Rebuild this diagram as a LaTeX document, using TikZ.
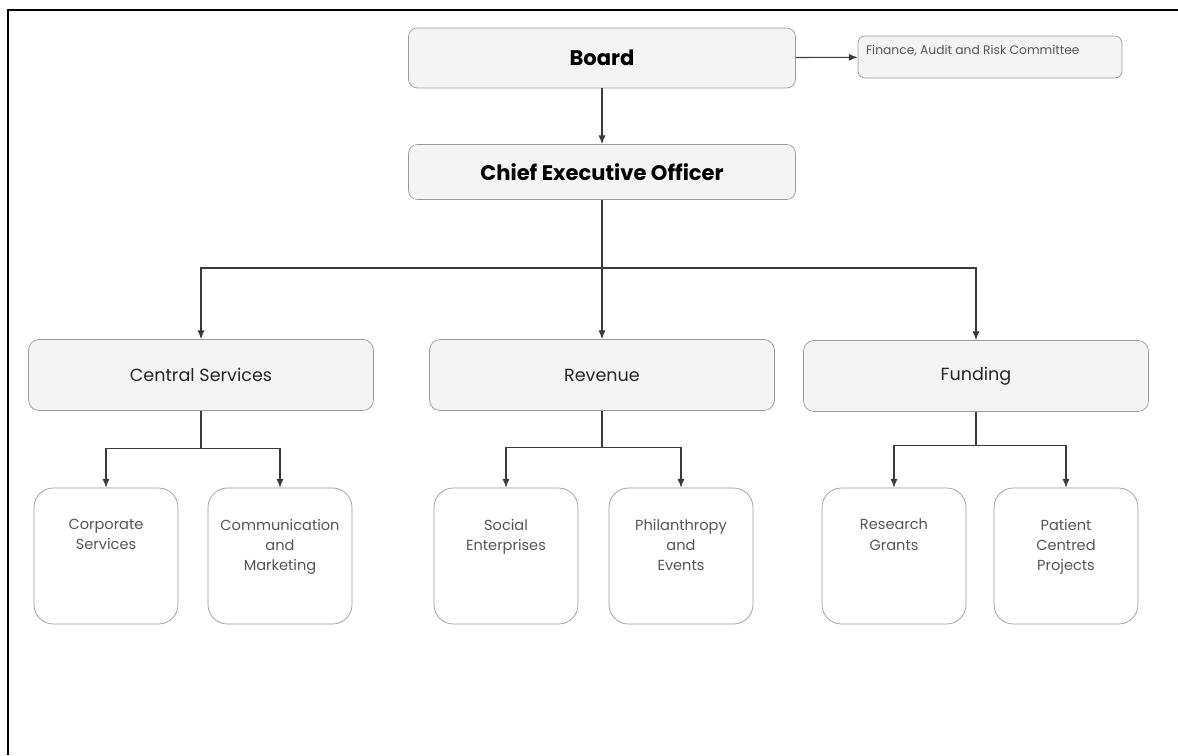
\documentclass[tikz,border=0pt]{standalone}
\usepackage{xcolor}
\usepackage{fontspec}
\setmainfont{Poppins}
\usepackage{tikz}
\usetikzlibrary{arrows}
\usetikzlibrary{arrows.meta}
\tikzset{>=latex}
\definecolor{boxfill}{HTML}{F4F4F4}
\definecolor{boxedge}{HTML}{999999}
\definecolor{wire}{HTML}{3A3A3A}
\definecolor{softtext}{HTML}{555555}
\tikzstyle{topbox} = [draw=boxedge, fill=boxfill, rounded corners=5pt, minimum width=7.74cm, inner sep=0, font=\bfseries\fontsize{12}{14}\selectfont]
\tikzstyle{deptbox} = [draw=boxedge, fill=boxfill, rounded corners=6pt, minimum width=6.9cm, minimum height=1.42cm, inner sep=0, text=black!85, font=\fontsize{10}{12}\selectfont]
\tikzstyle{unitbox} = [draw=boxedge, fill=white, rounded corners=11pt, minimum width=2.88cm, inner sep=0, text=softtext, font=\fontsize{8.3}{11.6}\selectfont]
\tikzstyle{link} = [-{Latex[length=5pt, width=4pt]}, draw=wire, line width=0.6pt]
\newcommand{\unittext}[1]{\begin{minipage}[c][2.72cm][t]{2.88cm}\centering\vspace*{0.62cm}#1\end{minipage}}

\begin{document}
\begin{tikzpicture}[x=0.02cm, y=-0.02cm]
\useasboundingbox (0, 0) rectangle (1178, 755);
\draw [line width=1.3pt] (8, 755) -- (8, 10) -- (1178, 10);

\node [topbox, minimum height=1.2cm] (board) at (602, 58) {Board};
\node [draw=boxedge, fill=boxfill, rounded corners=4pt, inner sep=0, font=\fontsize{7}{8}\selectfont, text=softtext] (frc) at (990, 57)
  {\begin{minipage}[c][0.84cm][t]{5.28cm}\vspace*{0.18cm}\hspace*{0.16cm}Finance, Audit and Risk Committee\end{minipage}};
\node [topbox, minimum height=1.1cm] (ceo) at (602, 172) {Chief Executive Officer};

\node [deptbox] (central) at (201, 375) {Central Services};
\node [deptbox] (revenue) at (602, 375) {Revenue};
\node [deptbox] (funding) at (976, 376) {Funding};

\node [unitbox] (corp) at (106, 556) {\unittext{Corporate\\Services}};
\node [unitbox] (comm) at (280, 556) {\unittext{Communication\\and\\Marketing}};
\node [unitbox] (social) at (506, 556) {\unittext{Social\\Enterprises}};
\node [unitbox] (phil) at (681, 556) {\unittext{Philanthropy\\and\\Events}};
\node [unitbox] (grants) at (894, 556) {\unittext{Research\\Grants}};
\node [unitbox] (patient) at (1066, 556) {\unittext{Patient\\Centred\\Projects}};

\coordinate (bus) at (602, 268);
\draw [link] (board) -- (frc);
\draw [link] (board) -- (ceo);
\draw [link] (ceo) -- (revenue);
\draw [link] (bus) -| (central);
\draw [link] (bus) -| (funding);

\draw [link] (central.south) -- ++(0, 38) -| (corp.north);
\draw [link] (central.south) ++(0, 38) -| (comm.north);
\draw [link] (revenue.south) -- ++(0, 37) -| (social.north);
\draw [link] (revenue.south) ++(0, 37) -| (phil.north);
\draw [link] (funding.south) -- ++(0, 34) -| (grants.north);
\draw [link] (funding.south) ++(0, 34) -| (patient.north);
\end{tikzpicture}
\end{document}
